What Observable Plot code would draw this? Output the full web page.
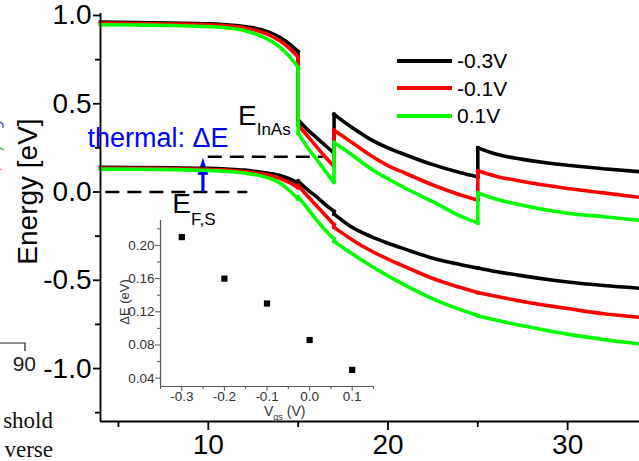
<!DOCTYPE html>
<html><head><meta charset="utf-8">
<script src="https://cdn.jsdelivr.net/npm/d3@7"></script>
<script src="https://cdn.jsdelivr.net/npm/@observablehq/plot@0.6"></script>
<style>
body{margin:0;background:#fff;}
#wrap{position:relative;width:639px;height:461px;overflow:hidden;background:#fff;font-family:"Liberation Sans",Arial,sans-serif;}
#wrap svg{position:absolute;left:0;top:0;}
#legend{position:absolute;left:397px;top:47px;}
#legend .row{display:flex;align-items:center;height:27.5px;}
#legend .sw{width:55px;height:4px;}
#legend .lb{margin-left:5px;font-size:21px;color:#000;line-height:1;}
</style></head><body><div id="wrap"><div id="legend"></div></div>
<script>
// ---- data ----
const seriesNames = ["-0.3V", "-0.1V", "0.1V"];
const seriesColors = ["#000000", "#ff0000", "#00ff00"];
const positions = [4,6,8,10,11,12,12.5,13,13.5,14,14.5,15,15,15.5,16,16.5,17,17,18,19,20,21,22.5,24,25,25,26,27.5,29,30,32,34];
const upperM03 = [.963,.960,.957,.953,.948,.938,.930,.918,.900,.875,.840,.795,.41,.355,.31,.265,.22,.44,.365,.30,.25,.21,.155,.11,.085,.25,.215,.185,.163,.152,.132,.115];
const upperM01 = [.957,.955,.952,.947,.942,.930,.920,.905,.885,.855,.815,.765,.38,.32,.26,.20,.145,.35,.28,.21,.15,.105,.04,-.015,-.045,.12,.09,.06,.035,.02,-.005,-.03];
const upperP01 = [.948,.946,.943,.937,.930,.915,.900,.880,.855,.820,.770,.705,.335,.255,.19,.12,.055,.28,.21,.135,.075,.02,-.055,-.135,-.175,-.005,-.04,-.075,-.105,-.12,-.14,-.16];
const lowerM03 = [.14,.139,.137,.134,.130,.124,.118,.112,.104,.093,.075,.05,.062,.015,-.025,-.07,-.11,-.125,-.20,-.25,-.29,-.325,-.375,-.41,-.43,-.43,-.45,-.475,-.497,-.51,-.53,-.545];
const lowerM01 = [.135,.134,.132,.128,.124,.116,.110,.102,.092,.076,.055,.025,.037,-.02,-.075,-.13,-.185,-.20,-.27,-.33,-.38,-.425,-.49,-.54,-.57,-.57,-.59,-.62,-.645,-.66,-.69,-.71];
const lowerP01 = [.13,.129,.127,.122,.117,.108,.100,.090,.075,.05,.01,-.04,-.028,-.09,-.155,-.215,-.265,-.28,-.35,-.415,-.475,-.53,-.605,-.665,-.70,-.70,-.725,-.758,-.787,-.805,-.835,-.86];
const fermiLevel = 0.0;
const deltaE = 0.2;
const yTicksMajor = [-1.0,-0.5,0.0,0.5,1.0];
const yTicksMinor = [-1.25,-0.75,-0.25,0.25,0.75];
const xTicksMajor = [10,20,30];
const xTicksMinor = [5,15,25];
// inset
const vgs = [-0.3,-0.2,-0.1,0.0,0.1];
const dE = [0.21,0.16,0.13,0.086,0.05];
const insetYTicks = [0.04,0.08,0.12,0.16,0.20];
const insetYMinor = [0.06,0.10,0.14,0.18,0.22];
const insetXTicks = [-0.3,-0.2,-0.1,0.0,0.1];
const insetXMinor = [-0.35,-0.25,-0.15,-0.05,0.05,0.15];

// ---- build ----
const FONT = '"Liberation Sans", Arial, sans-serif';
const uppers = [upperM03, upperM01, upperP01];
const lowers = [lowerM03, lowerM01, lowerP01];
const rows = [];
function addCurve(series, band, vals) {
  let seg = 0;
  positions.forEach((x, j) => {
    if (j > 0 && x === positions[j - 1]) {
      // vertical jump: its own two-point segment, then a new smooth segment
      const k = `${series}|${band}|jump${j}`;
      rows.push({x, E: vals[j - 1], series, key: k});
      rows.push({x, E: vals[j], series, key: k});
      seg++;
    }
    rows.push({x, E: vals[j], series, key: `${series}|${band}|${seg}`});
  });
}
seriesNames.forEach((s, i) => { addCurve(s, "u", uppers[i]); addCurve(s, "l", lowers[i]); });
const dashed = [
  {E: fermiLevel, x1: 4.3, x2: 12.2},
  {E: deltaE, x1: 10.0, x2: 16.4}
];
const arrowX = 9.7;
const arrowHead = {draw(ctx) { ctx.moveTo(0, 0); ctx.lineTo(-5.5, 17); ctx.lineTo(5.5, 17); ctx.closePath(); }};

const main = Plot.plot({
  width: 639, height: 461,
  marginLeft: 100, marginRight: 0, marginTop: 15, marginBottom: 40,
  x: {domain: [4, 34]},
  y: {domain: [-1.3, 1.0]},
  color: {domain: seriesNames, range: seriesColors},
  style: {fontFamily: FONT, fontSize: "28px", color: "#000", background: "transparent"},
  marks: [
    Plot.ruleY(dashed, {y: "E", x1: "x1", x2: "x2", stroke: "#000", strokeWidth: 2.4, strokeDasharray: "14,8"}),
    Plot.ruleX([arrowX], {y1: fermiLevel, y2: deltaE - 0.06, stroke: "#0000ff", strokeWidth: 3.2}),
    Plot.dot([{x: arrowX, E: deltaE}], {x: "x", y: "E", symbol: arrowHead, fill: "#0000ff", stroke: "none", dy: 1}),
    Plot.line(rows, {x: "x", y: "E", z: "key", stroke: "series", strokeWidth: 3.6, curve: "monotone-x", strokeLinecap: "square", strokeLinejoin: "miter"}),
    Plot.ruleX([4], {y1: -1.3, y2: 1.012, strokeWidth: 1.8}),
    Plot.ruleY([-1.3], {strokeWidth: 1.8}),
    Plot.axisY({ticks: yTicksMajor, tickFormat: d => d.toFixed(1), tickSize: 7, tickPadding: 2, strokeWidth: 1.8, label: null}),
    Plot.axisY({ticks: yTicksMinor, tickFormat: () => "", tickSize: 5, strokeWidth: 1.8, label: null}),
    Plot.axisX({ticks: xTicksMajor, tickFormat: d => String(d), tickSize: 9, tickPadding: 4, strokeWidth: 1.8, label: null}),
    Plot.axisX({ticks: xTicksMinor, tickFormat: () => "", tickSize: 6, strokeWidth: 1.8, label: null})
  ]
});

const inset = Plot.plot({
  width: 639, height: 461,
  marginLeft: 160, marginRight: 266, marginTop: 220, marginBottom: 75,
  x: {domain: [-0.35, 0.15]},
  y: {domain: [0.03, 0.23]},
  style: {fontFamily: FONT, fontSize: "13.5px", color: "#333", background: "transparent"},
  marks: [
    Plot.ruleX([-0.35], {y1: 0.03, y2: 0.23, stroke: "#555", strokeWidth: 1.2}),
    Plot.ruleY([0.03], {x1: -0.35, x2: 0.15, stroke: "#555", strokeWidth: 1.2}),
    Plot.axisY({ticks: insetYTicks, tickFormat: d => d.toFixed(2), tickSize: 5, tickPadding: 1, stroke: "#555", label: null}),
    Plot.axisY({ticks: insetYMinor, tickFormat: () => "", tickSize: 3, stroke: "#555", label: null}),
    Plot.axisX({ticks: insetXTicks, tickFormat: d => d.toFixed(1), tickSize: 5, tickPadding: 0, stroke: "#555", label: null}),
    Plot.axisX({ticks: insetXMinor, tickFormat: () => "", tickSize: 3, stroke: "#555", label: null}),
    Plot.dot(vgs.map((v, i) => ({v, e: dE[i]})), {x: "v", y: "e", symbol: "square", r: 3.5, fill: "#000", stroke: "none"})
  ]
});

const wrap = document.getElementById("wrap");
wrap.insertBefore(main, wrap.firstChild);
wrap.insertBefore(inset, main.nextSibling);

// ---- annotations on main ----
const sx = main.scale("x"), sy = main.scale("y");
const ms = d3.select(main);
ms.append("text").attr("transform", `translate(37,${sy.apply(0.0)}) rotate(-90)`)
  .attr("text-anchor", "middle").attr("font-size", 28).attr("fill", "#000").text("Energy [eV]");
ms.append("text").attr("x", sx.apply(3.3)).attr("y", sy.apply(0.252)).attr("text-anchor", "start")
  .attr("font-size", 27).attr("fill", "#0000ff").text("thermal: \u0394E");
const t1 = ms.append("text").attr("x", sx.apply(11.68)).attr("y", sy.apply(0.377)).attr("text-anchor", "start").attr("font-size", 28).attr("fill", "#000");
t1.append("tspan").text("E");
t1.append("tspan").attr("font-size", 17).attr("dy", 10).text("InAs");
const t2 = ms.append("text").attr("x", sx.apply(8.02)).attr("y", sy.apply(-0.122)).attr("text-anchor", "start").attr("font-size", 28).attr("fill", "#000");
t2.append("tspan").text("E");
t2.append("tspan").attr("font-size", 17).attr("dy", 12).text("F,S");
// cropped fragments from the neighbouring figure
const frag = ms.append("g");
frag.append("path").attr("d", "M0,343H25V351").attr("fill", "none").attr("stroke", "#222").attr("stroke-width", 1.2);
frag.append("text").attr("x", 36).attr("y", 371).attr("text-anchor", "end").attr("font-size", 21).attr("fill", "#222").text("90");
frag.append("text").attr("x", 53).attr("y", 428).attr("text-anchor", "end").attr("font-size", 23).attr("font-family", '"Liberation Serif", "Times New Roman", serif').attr("fill", "#111").text("shold");
frag.append("text").attr("x", 53).attr("y", 457).attr("text-anchor", "end").attr("font-size", 23).attr("font-family", '"Liberation Serif", "Times New Roman", serif').attr("fill", "#111").text("verse");
frag.append("path").attr("d", "M0,122L3,124V128").attr("fill", "none").attr("stroke", "#3333ff").attr("stroke-width", 1.2);
frag.append("path").attr("d", "M0,148L4,150").attr("fill", "none").attr("stroke", "#22aa22").attr("stroke-width", 1.2);
frag.append("path").attr("d", "M0,169L2,170").attr("fill", "none").attr("stroke", "#ff66cc").attr("stroke-width", 1.2);

// ---- inset labels ----
const is = d3.select(inset);
is.append("text").attr("transform", "translate(129,302) rotate(-90)").attr("text-anchor", "middle")
  .attr("font-size", 13).attr("fill", "#333").text("\u0394E (eV)");
const xl = is.append("text").attr("x", 264).attr("y", 416).attr("text-anchor", "start").attr("font-size", 14).attr("fill", "#333");
xl.append("tspan").text("V");
xl.append("tspan").attr("font-size", 9).attr("dy", 4).text("gs");
xl.append("tspan").attr("dy", -4).text(" (V)");

// ---- legend ----
const leg = d3.select("#legend");
seriesNames.forEach((s, i) => {
  const r = leg.append("div").attr("class", "row");
  r.append("div").attr("class", "sw").style("background", seriesColors[i]);
  r.append("div").attr("class", "lb").text(s);
});
</script>
</body></html>
